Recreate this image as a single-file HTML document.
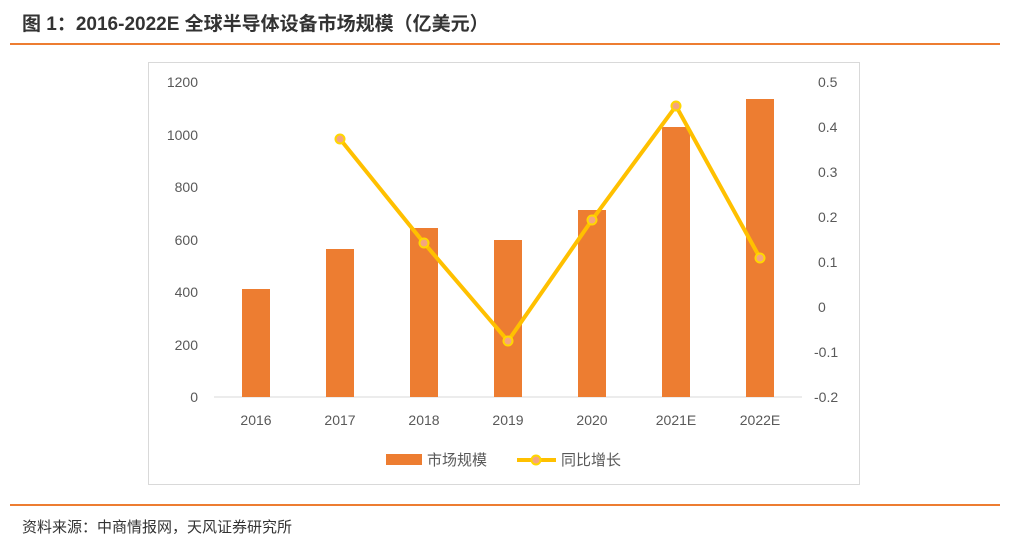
<!DOCTYPE html>
<html><head><meta charset="utf-8"><style>
body{margin:0;background:#fff;width:1014px;height:552px;overflow:hidden;font-family:"Liberation Sans","Noto Sans CJK SC",sans-serif}
</style></head><body>
<svg width="1014" height="552" xmlns="http://www.w3.org/2000/svg" font-family="Liberation Sans, Noto Sans CJK SC, sans-serif">
<text x="22" y="30" font-size="19" font-weight="bold" fill="#333">图 1：2016-2022E 全球半导体设备市场规模（亿美元）</text>
<rect x="10" y="43" width="990" height="2" fill="#ed7d31"/>
<rect x="148.5" y="62.5" width="711" height="422" fill="none" stroke="#d9d9d9"/>
<line x1="214" y1="397" x2="802" y2="397" stroke="#d9d9d9"/>
<g font-size="14" fill="#595959" text-anchor="end">
<text x="198" y="87">1200</text><text x="198" y="140">1000</text><text x="198" y="192">800</text>
<text x="198" y="245">600</text><text x="198" y="297">400</text><text x="198" y="350">200</text><text x="198" y="402">0</text>
</g>
<g font-size="14" fill="#595959" text-anchor="start">
<text x="818" y="87">0.5</text><text x="818" y="132">0.4</text><text x="818" y="177">0.3</text>
<text x="818" y="222">0.2</text><text x="818" y="267">0.1</text><text x="818" y="312">0</text>
<text x="814" y="357">-0.1</text><text x="814" y="402">-0.2</text>
</g>
<g fill="#ed7d31">
<rect x="242" y="289" width="28" height="108"/>
<rect x="326" y="249" width="28" height="148"/>
<rect x="410" y="228" width="28" height="169"/>
<rect x="494" y="240" width="28" height="157"/>
<rect x="578" y="210" width="28" height="187"/>
<rect x="662" y="127" width="28" height="270"/>
<rect x="746" y="99" width="28" height="298"/>
</g>
<g font-size="14" fill="#595959" text-anchor="middle">
<text x="256" y="425">2016</text><text x="340" y="425">2017</text><text x="424" y="425">2018</text>
<text x="508" y="425">2019</text><text x="592" y="425">2020</text><text x="676" y="425">2021E</text><text x="760" y="425">2022E</text>
</g>
<polyline points="340,139 424,243 508,341 592,220 676,106 760,258" fill="none" stroke="#ffc000" stroke-width="4" stroke-linejoin="round"/>
<g fill="#f4a57f" stroke="#ffd700" stroke-width="2">
<circle cx="340" cy="139" r="4.5"/><circle cx="424" cy="243" r="4.5"/><circle cx="508" cy="341" r="4.5"/>
<circle cx="592" cy="220" r="4.5"/><circle cx="676" cy="106" r="4.5"/><circle cx="760" cy="258" r="4.5"/>
</g>
<rect x="386" y="454" width="36" height="11" fill="#ed7d31"/>
<text x="427" y="465" font-size="15" fill="#595959">市场规模</text>
<line x1="517" y1="460" x2="556" y2="460" stroke="#ffc000" stroke-width="4"/>
<circle cx="536" cy="460" r="4.5" fill="#f4a57f" stroke="#ffd700" stroke-width="2"/>
<text x="561" y="465" font-size="15" fill="#595959">同比增长</text>
<rect x="10" y="504" width="990" height="2" fill="#ed7d31"/>
<text x="22" y="532" font-size="15" fill="#333">资料来源：中商情报网，天风证券研究所</text>
</svg>
</body></html>
